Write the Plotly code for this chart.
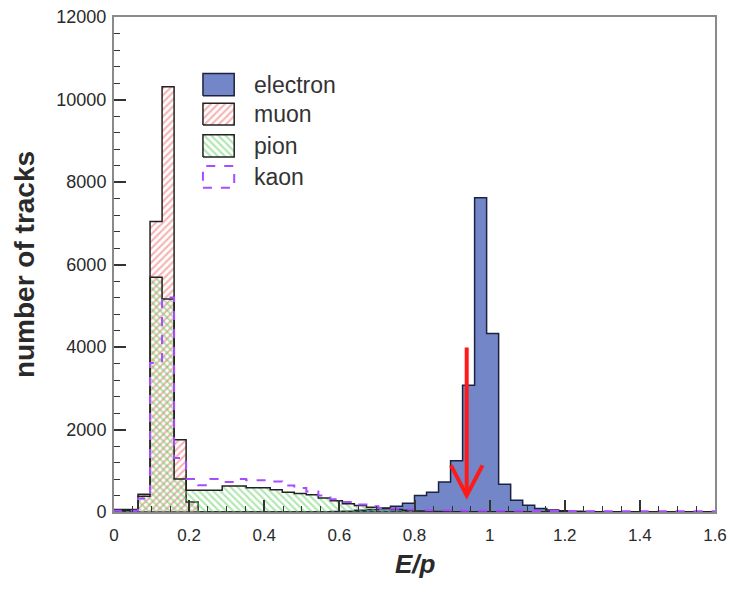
import numpy as np
import plotly.graph_objects as go

# ---------------- data ----------------
bin_width = 0.032
bin_edges = np.round(np.arange(51) * bin_width, 4)   # 50 bins, 0 .. 1.6

electron = [60, 60, 0, 0, 0, 0, 0, 0, 0, 0,
            0, 0, 0, 0, 0, 0, 0, 0, 10, 20,
            40, 60, 100, 140, 210, 400, 480, 730, 1240, 3070,
            7620, 4330, 670, 285, 165, 85, 50, 30, 20, 10,
            8, 5, 0, 0, 0, 0, 0, 0, 0, 0]
muon = [0, 0, 430, 7040, 10310, 1750, 240, 0, 0, 0,
        0, 0, 0, 0, 0, 0, 0, 0, 0, 0,
        0, 0, 0, 0, 0, 0, 0, 0, 0, 0,
        0, 0, 0, 0, 0, 0, 0, 0, 0, 0,
        0, 0, 0, 0, 0, 0, 0, 0, 0, 0]
pion = [40, 40, 380, 5690, 5165, 800, 525, 525, 525, 630,
        630, 590, 590, 540, 480, 450, 420, 340, 270, 200,
        155, 115, 85, 60, 40, 25, 15, 10, 5, 5,
        5, 5, 5, 5, 0, 0, 0, 0, 0, 0,
        0, 0, 0, 0, 0, 0, 0, 0, 0, 0]
kaon = [30, 30, 330, 3615, 5200, 1310, 800, 650, 800, 730,
        800, 770, 770, 740, 640, 580, 500, 400, 310, 240,
        180, 140, 100, 80, 60, 50, 40, 40, 35, 30,
        30, 30, 30, 30, 25, 25, 25, 25, 20, 20,
        20, 20, 20, 20, 20, 20, 20, 20, 20, 20]

series_names = ["electron", "muon", "pion", "kaon"]

# cut marker (arrow) in data units
arrow_x = 0.939
arrow_top = 3990
arrow_tip = 400
arrow_head_dx = 0.042
arrow_head_y = 1130

x_ticks = [0, 0.2, 0.4, 0.6, 0.8, 1.0, 1.2, 1.4, 1.6]
x_tick_labels = ["0", "0.2", "0.4", "0.6", "0.8", "1", "1.2", "1.4", "1.6"]
y_ticks = [0, 2000, 4000, 6000, 8000, 10000, 12000]
y_tick_labels = ["0", "2000", "4000", "6000", "8000", "10000", "12000"]

# ---------------- styles ----------------
FONT = "Liberation Sans, Arial, Helvetica, sans-serif"
ELEC_FILL = "#7286c8"
ELEC_LINE = "#1d2240"
MUON_HATCH = "#ee6a6a"
PION_HATCH = "#62cf62"
KAON_LINE = "#a64dff"
OUTLINE = "#222222"
TXT = "#2a2a2a"


def step_xy(values):
    xs = [bin_edges[0]] + list(bin_edges)
    ys = [0] + list(values) + [0]
    return xs, ys


muon_pattern = dict(shape="/", fgcolor=MUON_HATCH, bgcolor="rgba(0,0,0,0)", size=5, solidity=0.42)
pion_pattern = dict(shape="\\", fgcolor=PION_HATCH, bgcolor="rgba(0,0,0,0)", size=5, solidity=0.42)

fig = go.Figure()

xs, ys = step_xy(electron)
fig.add_trace(go.Scatter(x=xs, y=ys, mode="lines", line=dict(shape="hv", color=ELEC_LINE, width=1.5),
                         fill="tozeroy", fillcolor=ELEC_FILL, name="electron"))
xs, ys = step_xy(muon)
fig.add_trace(go.Scatter(x=xs, y=ys, mode="lines", line=dict(shape="hv", color=OUTLINE, width=1.5),
                         fill="tozeroy", fillcolor="rgba(0,0,0,0)", fillpattern=muon_pattern, name="muon"))
xs, ys = step_xy(pion)
fig.add_trace(go.Scatter(x=xs, y=ys, mode="lines", line=dict(shape="hv", color=OUTLINE, width=1.5),
                         fill="tozeroy", fillcolor="rgba(0,0,0,0)", fillpattern=pion_pattern, name="pion"))
xs, ys = step_xy(kaon)
fig.add_trace(go.Scatter(x=xs, y=ys, mode="lines", line=dict(shape="hv", color=KAON_LINE, width=2, dash="dash"),
                         name="kaon"))

# ---------------- manual legend on an overlay axis spanning the plot area ----------------
leg_x0, leg_x1 = 0.148, 0.200
leg_rows = [(0.841, 0.886), (0.782, 0.826), (0.717, 0.762), (0.655, 0.699)]
leg_styles = [
    dict(line=dict(color=ELEC_LINE, width=1.5), fill="toself", fillcolor=ELEC_FILL),
    dict(line=dict(color=OUTLINE, width=1.5), fill="toself", fillcolor="rgba(0,0,0,0)", fillpattern=muon_pattern),
    dict(line=dict(color=OUTLINE, width=1.5), fill="toself", fillcolor="rgba(0,0,0,0)", fillpattern=pion_pattern),
    dict(line=dict(color=KAON_LINE, width=2, dash="dash")),
]
for name, (y0, y1), st in zip(series_names, leg_rows, leg_styles):
    fig.add_trace(go.Scatter(x=[leg_x0, leg_x1, leg_x1, leg_x0, leg_x0],
                             y=[y0, y0, y1, y1, y0], mode="lines", xaxis="x2", yaxis="y2",
                             hoverinfo="skip", **st))
    fig.add_annotation(x=0.230, y=(y0 + y1) / 2, xref="x2", yref="y2", text=name,
                       showarrow=False, xanchor="left", yanchor="middle",
                       font=dict(family=FONT, size=23, color="#333333"))

# x-axis title placed as an annotation below the tick labels
fig.add_annotation(x=0.502, y=-0.106, xref="paper", yref="paper", text="<b><i>E/p</i></b>",
                   showarrow=False, xanchor="center", yanchor="middle",
                   font=dict(family=FONT, size=26, color=TXT))

# ---------------- arrow ----------------
arrow_style = dict(color="#ff1a1a", width=4)
fig.add_shape(type="line", x0=arrow_x, x1=arrow_x, y0=arrow_top, y1=arrow_tip, xref="x", yref="y",
              line=arrow_style)
fig.add_shape(type="path",
              path=f"M {arrow_x - arrow_head_dx},{arrow_head_y} L {arrow_x},{arrow_tip} L {arrow_x + arrow_head_dx},{arrow_head_y}",
              xref="x", yref="y", line=arrow_style)

fig.update_layout(
    width=731, height=590,
    margin=dict(l=114, r=16, t=17, b=78, autoexpand=False),
    paper_bgcolor="white", plot_bgcolor="white",
    font=dict(family=FONT, color=TXT),
    xaxis=dict(range=[0, 1.6], tickvals=x_ticks, ticktext=x_tick_labels, automargin=False,
               ticks="inside", ticklen=12, tickwidth=1.5, tickcolor="#333333",
               minor=dict(ticks="inside", ticklen=6, dtick=0.05, tickcolor="#333333", tickwidth=1.2),
               showline=True, linecolor="#8a8a8a", linewidth=2, mirror=True,
               showgrid=False, zeroline=False, ticklabeloverflow="allow",
               tickfont=dict(family=FONT, size=17, color=TXT), ticklabelstandoff=7),
    yaxis=dict(range=[0, 12000], tickvals=y_ticks, ticktext=y_tick_labels, automargin=False,
               ticks="inside", ticklen=12, tickwidth=1.5, tickcolor="#333333",
               minor=dict(ticks="inside", ticklen=6, dtick=400, tickcolor="#333333", tickwidth=1.2),
               showline=True, linecolor="#8a8a8a", linewidth=2, mirror=True,
               showgrid=False, zeroline=False, ticklabeloverflow="allow",
               tickfont=dict(family=FONT, size=18, color=TXT), ticklabelstandoff=2,
               title=dict(text="<b>number of tracks</b>", font=dict(family=FONT, size=28, color=TXT), standoff=14)),
    xaxis2=dict(domain=[0, 1], range=[0, 1], overlaying="x", anchor="y2", visible=False),
    yaxis2=dict(domain=[0, 1], range=[0, 1], overlaying="y", anchor="x2", visible=False),
    showlegend=False,
)

fig.write_html("out.html", config={"displayModeBar": False},
               post_script="document.body.style.margin='0px';")
